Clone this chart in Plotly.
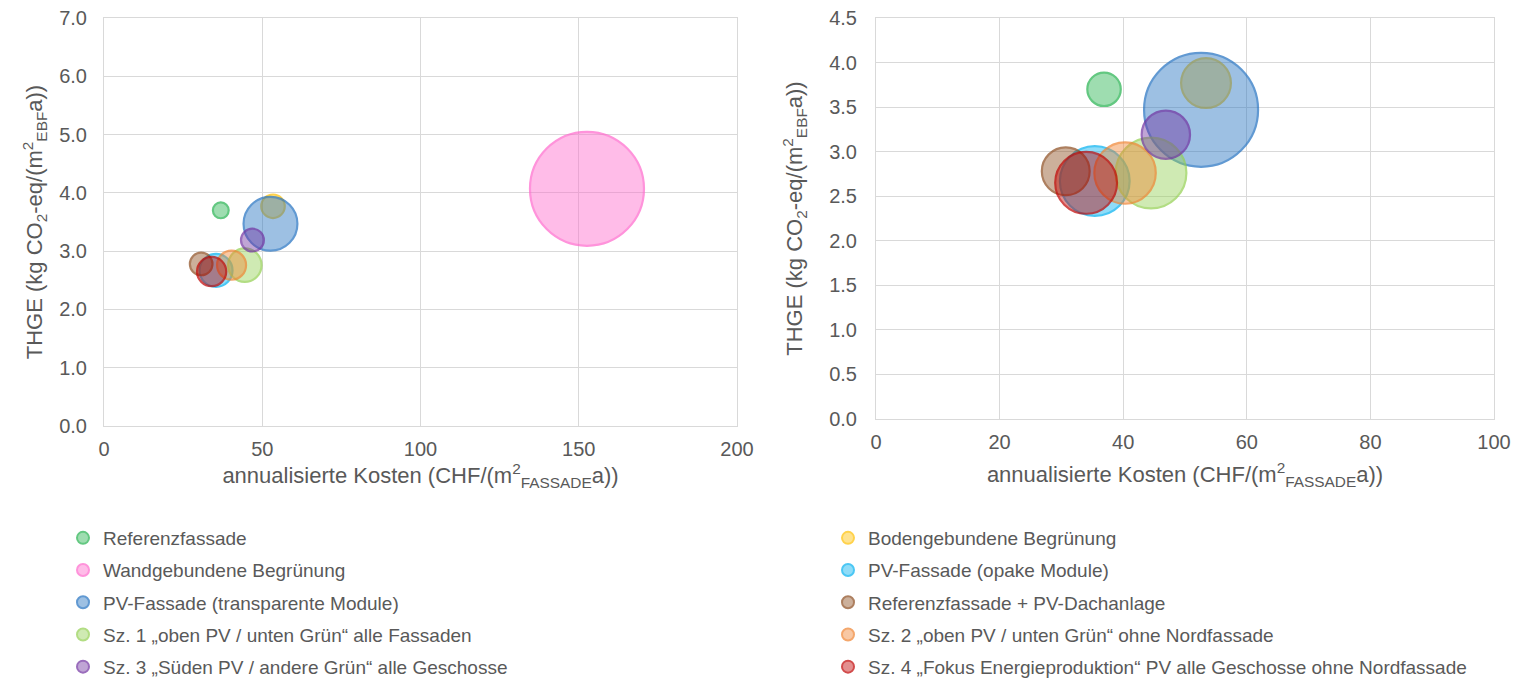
import plotly.graph_objects as go

# Varianten (Reihenfolge wie in Excel gezeichnet)
names = [
    "Referenzfassade",
    "Bodengebundene Begrünung",
    "Wandgebundene Begrünung",
    "PV-Fassade (opake Module)",
    "PV-Fassade (transparente Module)",
    "Referenzfassade + PV-Dachanlage",
    "Sz. 1 „oben PV / unten Grün“ alle Fassaden",
    "Sz. 2 „oben PV / unten Grün“ ohne Nordfassade",
    "Sz. 3 „Süden PV / andere Grün“ alle Geschosse",
    "Sz. 4 „Fokus Energieproduktion“ PV alle Geschosse ohne Nordfassade",
]
kosten = [36.9, 53.4, 152.6, 35.4, 52.6, 30.7, 44.5, 40.3, 46.9, 34.0]
thge = [3.70, 3.77, 4.07, 2.67, 3.47, 2.78, 2.76, 2.76, 3.19, 2.65]
blase = [8.6, 19.1, 448, 37.4, 100, 17.6, 38.5, 29.0, 18.0, 29.4]

colors = ["#22b14c", "#ffc000", "#ff66cc", "#00b0f0", "#1f6fc0",
          "#8b4a1c", "#92d050", "#f0822f", "#7030a0", "#c00000"]
legend_of = ["legend", "legend2"] * 5  # zwei Spalten unten

def rgba(hex_col, a):
    h = hex_col.lstrip("#")
    return "rgba(%d,%d,%d,%.2f)" % (int(h[0:2], 16), int(h[2:4], 16), int(h[4:6], 16), a)

# page body has an 8px margin, so the figure is a bit smaller and shifted
OFF = 8
W, H = 1529 - OFF, 683 - OFF
def px_x(p):
    return (p - OFF) / W
def px_y(p):
    return (H - (p - OFF)) / H

MAXPX = 114
xmax_right = 100
ref_left = 2.0 * max(blase) / MAXPX ** 2
ref_right = 2.0 * max(b for b, x in zip(blase, kosten) if x <= xmax_right) / MAXPX ** 2

fig = go.Figure()
for i, n in enumerate(names):
    mk = dict(color=rgba(colors[i], 0.62), line=dict(color=colors[i], width=2.2),
              sizemode="area")
    fig.add_trace(go.Scatter(
        x=[kosten[i]], y=[thge[i]], mode="markers", name=n,
        marker=dict(size=[blase[i]], sizeref=ref_left, **mk),
        xaxis="x", yaxis="y", legend=legend_of[i], legendgroup=n, showlegend=True))
    if kosten[i] <= xmax_right:
        fig.add_trace(go.Scatter(
            x=[kosten[i]], y=[thge[i]], mode="markers", name=n,
            marker=dict(size=[blase[i]], sizeref=ref_right, **mk),
            xaxis="x2", yaxis="y2", legendgroup=n, showlegend=False))

grid = "#d9d9d9"
txt = "#595959"
font = "Liberation Sans, Arial, sans-serif"
xtitle = "annualisierte Kosten (CHF/(m<sup>2</sup><sub>FASSADE</sub>a))"
ytitle = "THGE (kg CO<sub>2</sub>-eq/(m<sup>2</sup><sub>EBF</sub>a))"

ax = dict(showgrid=True, gridcolor=grid, gridwidth=1, zeroline=False,
          showline=True, linecolor=grid, mirror=True, ticks="",
          ticklabeloverflow="allow",
          tickfont=dict(size=20, color=txt, family=font), fixedrange=True)

legend_common = dict(orientation="v", xanchor="left", yanchor="top", y=px_y(519),
                     font=dict(size=19, color=txt, family=font),
                     itemsizing="constant", tracegroupgap=4.5,
                     bgcolor="rgba(0,0,0,0)", itemwidth=30)

fig.update_layout(
    width=W, height=H,
    margin=dict(l=0, r=0, t=0, b=0, autoexpand=False),
    paper_bgcolor="white", plot_bgcolor="white",
    font=dict(family=font, color=txt),
    xaxis=dict(domain=[px_x(104), px_x(737)], range=[0, 200], dtick=50,
               title=dict(text=xtitle, font=dict(size=22, color=txt), standoff=8),
               ticklabelstandoff=5, anchor="y", **ax),
    yaxis=dict(domain=[px_y(426), px_y(18)], range=[0, 7], dtick=1,
               tickformat=".1f",
               title=dict(text=ytitle, font=dict(size=22, color=txt), standoff=10),
               ticklabelstandoff=12, anchor="x", **ax),
    xaxis2=dict(domain=[px_x(876), px_x(1494)], range=[0, 100], dtick=20,
                title=dict(text=xtitle, font=dict(size=22, color=txt), standoff=14),
                ticklabelstandoff=5, anchor="y2", **ax),
    yaxis2=dict(domain=[px_y(419), px_y(18)], range=[0, 4.5], dtick=0.5,
                tickformat=".1f",
                title=dict(text=ytitle, font=dict(size=22, color=txt), standoff=20),
                ticklabelstandoff=14, anchor="x2", **ax),
    legend=dict(x=px_x(63), **legend_common),
    legend2=dict(x=px_x(828), **legend_common),
)

fig.write_html("out.html")
